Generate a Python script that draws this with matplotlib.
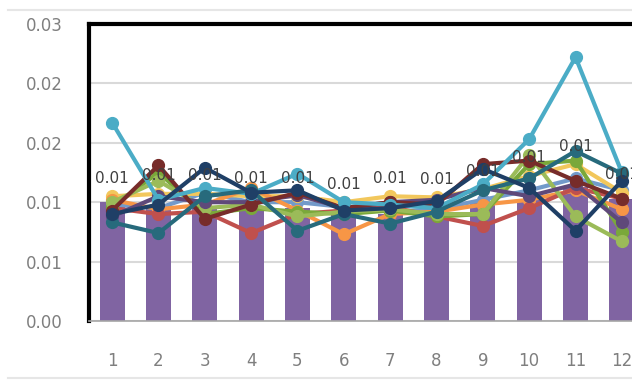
import matplotlib.pyplot as plt
from matplotlib.lines import Line2D

months = [1, 2, 3, 4, 5, 6, 7, 8, 9, 10, 11, 12]
month_labels = [str(m) for m in months]

# monthly average (bars)
average = [0.0100, 0.0095, 0.0097, 0.0097, 0.0095, 0.0090, 0.0090, 0.0091, 0.0100, 0.0103, 0.0113, 0.0103]

# individual series (lines)
cyan = [0.0167, 0.0102, 0.0112, 0.0107, 0.0124, 0.0100, 0.0098, 0.0095, 0.0115, 0.0153, 0.0222, 0.0125]
dark_teal = [0.0083, 0.0074, 0.0105, 0.0110, 0.0076, 0.0090, 0.0082, 0.0092, 0.0110, 0.0120, 0.0143, 0.0124]
navy = [0.0090, 0.0098, 0.0129, 0.0108, 0.0110, 0.0093, 0.0095, 0.0101, 0.0128, 0.0112, 0.0076, 0.0118]
maroon = [0.0093, 0.0131, 0.0086, 0.0098, 0.0108, 0.0095, 0.0100, 0.0098, 0.0132, 0.0135, 0.0118, 0.0103]
red = [0.0095, 0.0090, 0.0092, 0.0074, 0.0090, 0.0093, 0.0096, 0.0088, 0.0080, 0.0095, 0.0112, 0.0103]
orange = [0.0102, 0.0094, 0.0098, 0.0112, 0.0093, 0.0073, 0.0090, 0.0092, 0.0098, 0.0102, 0.0110, 0.0094]
olive = [0.0100, 0.0118, 0.0095, 0.0098, 0.0088, 0.0092, 0.0094, 0.0090, 0.0090, 0.0140, 0.0088, 0.0067]
green = [0.0096, 0.0125, 0.0090, 0.0095, 0.0092, 0.0090, 0.0093, 0.0088, 0.0090, 0.0132, 0.0135, 0.0075]
plum = [0.0088, 0.0105, 0.0100, 0.0100, 0.0106, 0.0095, 0.0100, 0.0102, 0.0112, 0.0105, 0.0115, 0.0083]
gold = [0.0105, 0.0107, 0.0107, 0.0105, 0.0105, 0.0100, 0.0105, 0.0104, 0.0111, 0.0122, 0.0132, 0.0108]
sky = [0.0098, 0.0095, 0.0108, 0.0100, 0.0100, 0.0096, 0.0092, 0.0094, 0.0102, 0.0110, 0.0120, 0.0110]

# the labelled series
gold_labels = [f"{v:.2f}" for v in gold]

series = [
    (sky, "#729ACA"),
    (gold, "#F2C75C"),
    (orange, "#F79646"),
    (red, "#C0504D"),
    (green, "#7AA83A"),
    (olive, "#9BBB59"),
    (plum, "#5F497A"),
    (maroon, "#772C2A"),
    (cyan, "#4BACC6"),
    (dark_teal, "#276A7C"),
    (navy, "#1F3F66"),
]

y_ticks = [0.0, 0.005, 0.010, 0.015, 0.020, 0.025]
y_tick_labels = ["0.00", "0.01", "0.01", "0.02", "0.02", "0.03"]

fig = plt.figure(figsize=(6.32, 3.83), dpi=100)
ax = fig.add_axes([0.1408, 0.1619, 0.8798, 0.7755])

ax.bar(months, average, width=0.54, color="#8064A2", zorder=2)

for values, color in series:
    ax.plot(months, values, color=color, linewidth=3, marker="o",
            markersize=8.5, zorder=3)

for m, v, text in zip(months, gold, gold_labels):
    ax.annotate(text, (m, v), xytext=(0, 13), textcoords="offset points",
                ha="center", va="center", fontsize=11, color="#404040", zorder=4)

ax.set_xlim(0.5, 12.5)
ax.set_ylim(0, 0.025)
ax.set_xticks(months)
ax.set_xticklabels(month_labels)
ax.set_yticks(y_ticks)
ax.set_yticklabels(y_tick_labels)
ax.tick_params(axis="both", length=0, labelsize=12, labelcolor="#7f7f7f")
ax.tick_params(axis="y", pad=19)
ax.tick_params(axis="x", pad=22)

ax.grid(axis="y", color="#d9d9d9", linewidth=1.5, zorder=0)
ax.set_axisbelow(True)

ax.spines["left"].set_color("black")
ax.spines["left"].set_linewidth(3)
ax.spines["top"].set_color("black")
ax.spines["top"].set_linewidth(3)
ax.spines["right"].set_visible(False)
ax.spines["bottom"].set_color("#a6a6a6")
ax.spines["bottom"].set_linewidth(1.2)

# outer chart frame lines
fig.add_artist(Line2D([0.013, 1.0], [0.974, 0.974], color="#e6e6e6", linewidth=1.5))
fig.add_artist(Line2D([0.013, 1.0], [0.013, 0.013], color="#e6e6e6", linewidth=1.5))

fig.savefig("out.png", dpi=100)
